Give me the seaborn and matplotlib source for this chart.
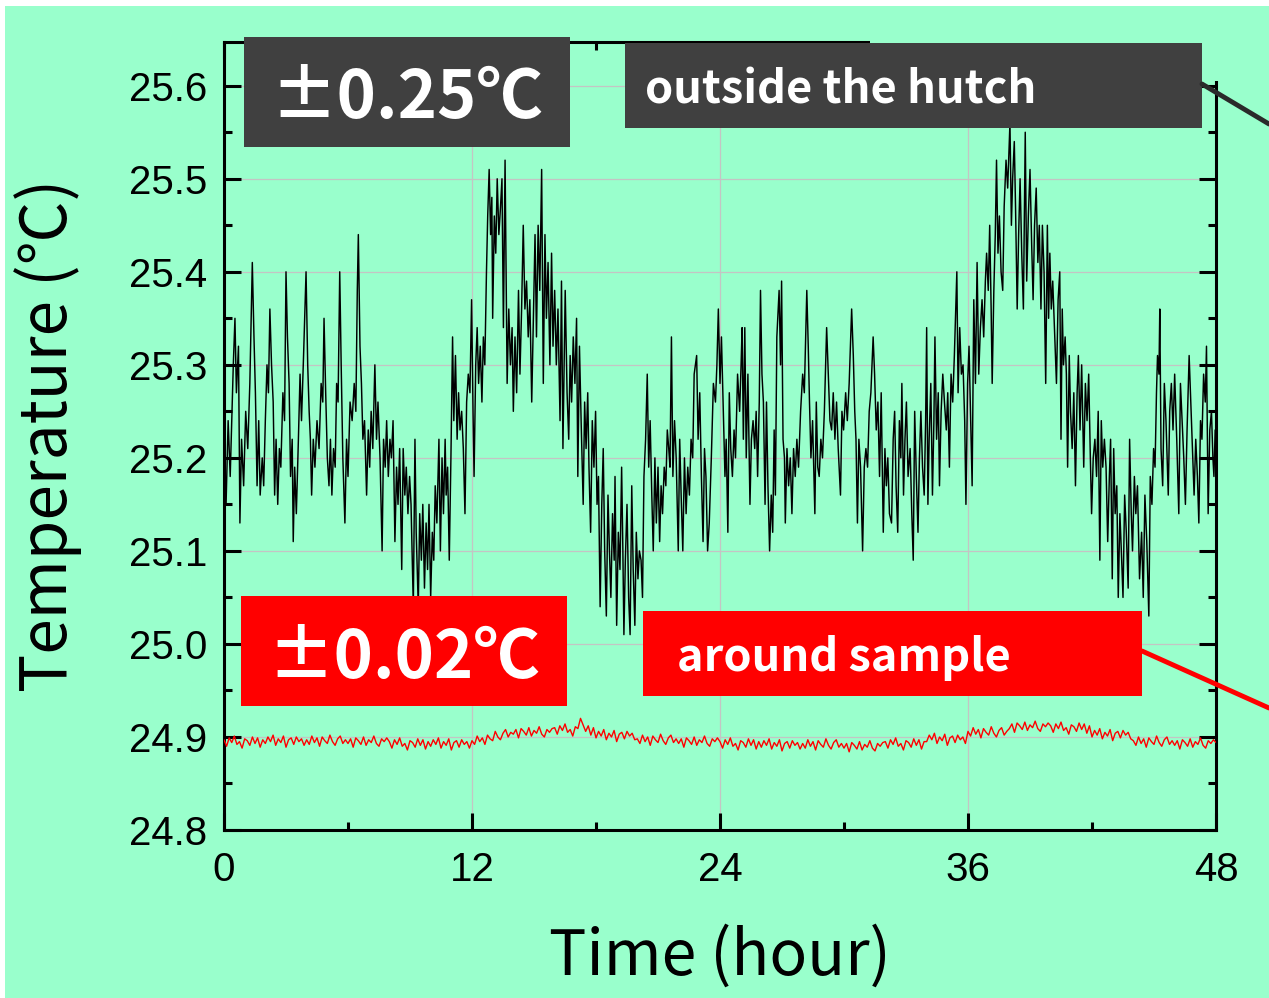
import numpy as np
import pandas as pd
import matplotlib
matplotlib.use("Agg")
import matplotlib.pyplot as plt
import seaborn as sns
from matplotlib.patches import Rectangle
from matplotlib.lines import Line2D
from matplotlib.ticker import MultipleLocator
from matplotlib import font_manager as fm

# ---------------- data ----------------
black_time = [
    0.0, 0.1, 0.2, 0.3, 0.45, 0.53, 0.6, 0.7, 0.77, 0.85, 0.95, 1.05, 1.15, 1.25, 1.37, 1.45, 1.52, 1.6, 1.68, 1.75,
    1.85, 1.92, 2.0, 2.08, 2.15, 2.22, 2.3, 2.38, 2.45, 2.52, 2.6, 2.68, 2.75, 2.85, 2.93, 3.0, 3.07, 3.15, 3.22, 3.3,
    3.35, 3.42, 3.5, 3.6, 3.68, 3.75, 3.85, 3.97, 4.05, 4.12, 4.18, 4.24, 4.32, 4.4, 4.5, 4.6, 4.7, 4.78, 4.84, 4.92,
    5.0, 5.08, 5.15, 5.22, 5.3, 5.38, 5.45, 5.52, 5.6, 5.67, 5.75, 5.85, 5.93, 6.0, 6.1, 6.2, 6.3, 6.38, 6.45, 6.5,
    6.58, 6.65, 6.72, 6.8, 6.9, 6.98, 7.05, 7.12, 7.2, 7.3, 7.38, 7.45, 7.55, 7.65, 7.72, 7.8, 7.87,
    7.95, 8.03, 8.1, 8.18, 8.27, 8.35, 8.42, 8.5, 8.6, 8.67, 8.75, 8.82, 8.9, 8.98, 9.05, 9.16, 9.24, 9.3, 9.4, 9.47,
    9.55, 9.62, 9.7, 9.78, 9.85, 9.92, 10.0, 10.08, 10.15, 10.22, 10.3, 10.4, 10.47, 10.55, 10.62, 10.7, 10.75, 10.82,
    10.9, 10.98, 11.06, 11.12, 11.2, 11.28, 11.35, 11.42, 11.5, 11.58, 11.66, 11.74, 11.82, 11.9, 11.98, 12.05, 12.1,
    12.18, 12.25, 12.32, 12.4, 12.48, 12.55, 12.62, 12.7, 12.76, 12.83, 12.9, 12.96, 13.0, 13.08, 13.15, 13.22, 13.3,
    13.38, 13.45, 13.52, 13.6, 13.7, 13.78, 13.86, 13.94, 14.0, 14.08, 14.16, 14.25, 14.32, 14.4, 14.48, 14.56, 14.64,
    14.72, 14.8, 14.89, 14.97, 15.05, 15.12, 15.2, 15.28, 15.37, 15.45, 15.53, 15.6, 15.68, 15.77, 15.85, 15.92, 16.0,
    16.08, 16.16, 16.26, 16.33, 16.4, 16.46, 16.51, 16.6, 16.68, 16.75, 16.82, 16.9, 16.98, 17.06, 17.12, 17.2, 17.28,
    17.38, 17.45, 17.52, 17.6, 17.66, 17.74, 17.82, 17.9, 17.98, 18.05, 18.12, 18.2, 18.28, 18.35, 18.42, 18.5, 18.58,
    18.65, 18.72, 18.8, 18.88, 18.92, 19.0, 19.08, 19.16, 19.24, 19.3, 19.35, 19.42, 19.5, 19.58, 19.65, 19.73, 19.8,
    19.88, 19.95, 20.03, 20.1, 20.18, 20.25, 20.32, 20.4, 20.48, 20.55, 20.62, 20.7, 20.77, 20.85, 20.92, 21.0, 21.08,
    21.15, 21.22, 21.3, 21.38, 21.45, 21.52, 21.58, 21.65, 21.72, 21.8, 21.88, 21.98, 22.05, 22.12, 22.2, 22.28, 22.36,
    22.44, 22.52, 22.6, 22.68, 22.75, 22.87, 22.94, 23.02, 23.1, 23.18, 23.25, 23.32, 23.4, 23.48, 23.58, 23.68, 23.78,
    23.85, 23.92,
    24.0, 24.07, 24.15, 24.24, 24.3, 24.38, 24.45, 24.52, 24.6, 24.68, 24.75, 24.85, 24.95, 25.02, 25.07, 25.13, 25.2,
    25.27, 25.35, 25.45, 25.52, 25.6, 25.68, 25.75, 25.82, 25.9, 25.96, 26.03, 26.1, 26.18, 26.25, 26.32, 26.4, 26.48,
    26.55, 26.62, 26.68, 26.75, 26.86, 26.93, 26.98, 27.05, 27.12, 27.16, 27.24, 27.32, 27.4, 27.48, 27.56, 27.64,
    27.72, 27.8, 27.9, 28.0, 28.08, 28.2, 28.27, 28.33, 28.4, 28.48, 28.59, 28.66, 28.73, 28.8, 28.88, 28.96, 29.05,
    29.16, 29.24, 29.32, 29.4, 29.48, 29.56, 29.64, 29.72, 29.83, 29.9, 29.98, 30.08, 30.16, 30.25, 30.37, 30.45, 30.52,
    30.58, 30.65, 30.72, 30.8, 30.9, 30.98, 31.06, 31.14, 31.22, 31.3, 31.41, 31.48, 31.56, 31.64, 31.72, 31.8, 31.9,
    31.98, 32.05, 32.12, 32.2, 32.3, 32.38, 32.45, 32.52, 32.6, 32.68, 32.75, 32.8, 32.88, 32.95, 33.02, 33.1, 33.2,
    33.28, 33.35, 33.42, 33.5, 33.58, 33.65, 33.72, 33.8, 33.88, 33.95, 34.0, 34.06, 34.12, 34.2, 34.28, 34.35, 34.4,
    34.48, 34.56, 34.62, 34.7, 34.78, 34.86, 34.95, 35.02, 35.1, 35.18, 35.26, 35.34, 35.46, 35.52, 35.6, 35.68, 35.76,
    35.84, 35.9, 35.98, 36.05, 36.12, 36.2, 36.28, 36.36, 36.44, 36.52, 36.6, 36.68, 36.76, 36.84, 36.9, 36.98, 37.05,
    37.12, 37.17, 37.25, 37.32, 37.38, 37.45, 37.52, 37.6, 37.68, 37.75, 37.84, 37.92, 38.03, 38.1, 38.16, 38.24, 38.3,
    38.38, 38.45, 38.52, 38.6, 38.68, 38.77, 38.84, 38.92, 39.0, 39.08, 39.15, 39.22, 39.3, 39.38, 39.45, 39.53, 39.6,
    39.68, 39.76,
    39.84, 39.9, 39.96, 40.03, 40.1, 40.18, 40.28, 40.36, 40.44, 40.5, 40.56, 40.62, 40.7, 40.76, 40.82, 40.9, 40.96,
    41.04, 41.12, 41.2, 41.28, 41.34, 41.42, 41.5, 41.6, 41.68, 41.76, 41.84, 41.92, 41.98, 42.06, 42.14, 42.22, 42.3,
    42.38, 42.45, 42.52, 42.6, 42.68, 42.76, 42.84, 42.9, 42.98, 43.05, 43.12, 43.2, 43.27, 43.35, 43.42, 43.5, 43.58,
    43.66, 43.75, 43.82, 43.9, 43.96, 44.05, 44.12, 44.2, 44.3, 44.4, 44.48, 44.56, 44.65, 44.75, 44.82, 44.9, 44.98,
    45.05, 45.12, 45.17, 45.24, 45.28, 45.34, 45.42, 45.5, 45.58, 45.69, 45.76, 45.84, 45.92, 46.0, 46.1, 46.2, 46.28,
    46.36, 46.44, 46.52, 46.6, 46.7, 46.78, 46.86, 46.94, 47.02, 47.1, 47.17, 47.25, 47.32, 47.4, 47.48, 47.54, 47.62,
    47.7, 47.78, 47.85, 47.9, 47.96,
]
black_temp = [
    25.20, 25.15, 25.24, 25.18, 25.30, 25.35, 25.27, 25.32, 25.13, 25.22, 25.17, 25.25, 25.21, 25.28, 25.41, 25.33, 25.27, 25.17, 25.24, 25.16,
    25.20, 25.17, 25.24, 25.30, 25.27, 25.36, 25.30, 25.26, 25.16, 25.22, 25.15, 25.21, 25.19, 25.27, 25.24, 25.40, 25.33, 25.28, 25.18, 25.22,
    25.11, 25.19, 25.14, 25.22, 25.29, 25.24, 25.31, 25.40, 25.30, 25.25, 25.22, 25.16, 25.22, 25.19, 25.24, 25.21, 25.28, 25.26, 25.35, 25.27,
    25.20, 25.17, 25.22, 25.16, 25.21, 25.19, 25.28, 25.26, 25.40, 25.30, 25.20, 25.13, 25.22, 25.18, 25.26, 25.24, 25.28, 25.25, 25.38, 25.44,
    25.32, 25.28, 25.22, 25.24, 25.16, 25.23, 25.19, 25.25, 25.21, 25.30, 25.22, 25.26, 25.20, 25.10, 25.22, 25.19, 25.24,
    25.18, 25.22, 25.20, 25.24, 25.11, 25.19, 25.15, 25.21, 25.08, 25.21, 25.16, 25.19, 25.14, 25.18, 25.15, 25.04, 25.22, 25.12, 25.04, 25.14,
    25.09, 25.15, 25.06, 25.13, 25.08, 25.15, 25.05, 25.12, 25.09, 25.17, 25.13, 25.22, 25.10, 25.20, 25.14, 25.22, 25.16, 25.19,
    25.09, 25.20, 25.33, 25.24, 25.31, 25.22, 25.27, 25.23, 25.25, 25.21, 25.14, 25.26, 25.29, 25.27, 25.37, 25.25, 25.18,
    25.30, 25.34, 25.28, 25.32, 25.26, 25.33, 25.30, 25.40, 25.46, 25.51, 25.44, 25.48, 25.35, 25.46, 25.42, 25.50, 25.44,
    25.47, 25.50, 25.34, 25.52, 25.28, 25.36, 25.30, 25.34, 25.25, 25.33, 25.27, 25.38, 25.29, 25.36, 25.45, 25.36, 25.39,
    25.33, 25.37, 25.26, 25.35, 25.44, 25.33, 25.45, 25.38, 25.51, 25.28, 25.44, 25.35, 25.41, 25.30, 25.42, 25.32, 25.38,
    25.30, 25.36, 25.24, 25.39, 25.21, 25.30, 25.38, 25.27, 25.22, 25.31, 25.26, 25.33, 25.28, 25.35, 25.18, 25.32, 25.24,
    25.15, 25.26, 25.21, 25.27, 25.19, 25.12, 25.24, 25.19, 25.25, 25.15, 25.18, 25.04, 25.15, 25.21, 25.10, 25.03, 25.16,
    25.10, 25.05, 25.14, 25.09, 25.18, 25.02, 25.12, 25.08, 25.19, 25.10, 25.01, 25.09, 25.15, 25.05, 25.01, 25.17, 25.08,
    25.02, 25.12, 25.07, 25.10, 25.09, 25.05, 25.18, 25.22, 25.29, 25.19, 25.24, 25.16, 25.10, 25.20, 25.13, 25.19, 25.11,
    25.17, 25.14, 25.19, 25.17, 25.23, 25.21, 25.19, 25.33, 25.18, 25.24, 25.20, 25.10, 25.22, 25.16, 25.10, 25.20, 25.14,
    25.19, 25.16, 25.22, 25.20, 25.29, 25.31, 25.22, 25.27, 25.18, 25.11, 25.21, 25.18, 25.10, 25.13, 25.20, 25.28, 25.26,
    25.30, 25.36,
    25.28, 25.33, 25.26, 25.18, 25.22, 25.12, 25.27, 25.21, 25.18, 25.23, 25.20, 25.29, 25.25, 25.30, 25.34, 25.22, 25.34,
    25.20, 25.29, 25.15, 25.22, 25.24, 25.21, 25.25, 25.18, 25.26, 25.38, 25.29, 25.26, 25.15, 25.26, 25.17, 25.10, 25.16,
    25.12, 25.23, 25.16, 25.33, 25.38, 25.30, 25.39, 25.22, 25.20, 25.13, 25.21, 25.17, 25.20, 25.14, 25.21, 25.18,
    25.22, 25.19, 25.25, 25.29, 25.27, 25.38, 25.32, 25.26, 25.20, 25.24, 25.14, 25.26, 25.19, 25.18, 25.22, 25.20, 25.25,
    25.34, 25.29, 25.24, 25.23, 25.27, 25.22, 25.26, 25.21, 25.16, 25.25, 25.23, 25.27, 25.24, 25.28, 25.36, 25.31, 25.25,
    25.22, 25.13, 25.22, 25.19, 25.10, 25.19, 25.21, 25.19, 25.25, 25.27, 25.33, 25.29, 25.23, 25.26, 25.18, 25.27, 25.12,
    25.21, 25.17, 25.20, 25.14, 25.13, 25.22, 25.25, 25.17, 25.12, 25.24, 25.20, 25.28, 25.16, 25.22, 25.26, 25.18, 25.21,
    25.14, 25.09, 25.25, 25.18, 25.12, 25.20, 25.25, 25.19, 25.16, 25.24, 25.34, 25.15, 25.22, 25.28, 25.16, 25.24, 25.33,
    25.22, 25.27, 25.17, 25.25, 25.29, 25.26, 25.23, 25.27, 25.19, 25.29, 25.26, 25.31, 25.40, 25.27, 25.34, 25.29, 25.30,
    25.24, 25.15, 25.28, 25.32, 25.25, 25.17, 25.37, 25.28, 25.41, 25.29, 25.34, 25.37, 25.33, 25.39, 25.42, 25.38, 25.45,
    25.36, 25.28, 25.38, 25.44, 25.52, 25.42, 25.46, 25.40, 25.38, 25.47, 25.52, 25.49, 25.56, 25.45, 25.50, 25.54, 25.47,
    25.36, 25.44, 25.50, 25.42, 25.36, 25.55, 25.39, 25.46, 25.51, 25.43, 25.37, 25.45, 25.49, 25.41, 25.45, 25.36, 25.45,
    25.40, 25.28,
    25.45, 25.35, 25.42, 25.36, 25.39, 25.34, 25.28, 25.37, 25.40, 25.22, 25.36, 25.30, 25.33, 25.29, 25.19, 25.31, 25.25,
    25.21, 25.27, 25.17, 25.27, 25.31, 25.23, 25.30, 25.19, 25.28, 25.24, 25.29, 25.20, 25.14, 25.20, 25.22, 25.18, 25.25,
    25.09, 25.24, 25.19, 25.22, 25.19, 25.11, 25.18, 25.22, 25.07, 25.21, 25.14, 25.17, 25.05, 25.14, 25.10, 25.05, 25.16,
    25.12, 25.06, 25.22, 25.14, 25.10, 25.18, 25.14, 25.17, 25.07, 25.12, 25.05, 25.16, 25.11, 25.03, 25.18, 25.15, 25.21,
    25.19, 25.27, 25.31, 25.29, 25.36, 25.21, 25.17, 25.28, 25.24, 25.16, 25.25, 25.28, 25.23, 25.29, 25.22, 25.14, 25.28,
    25.24, 25.20, 25.15, 25.23, 25.31, 25.26, 25.21, 25.16, 25.22, 25.18, 25.13, 25.24, 25.22, 25.29, 25.26, 25.32, 25.14,
    25.23, 25.25, 25.20, 25.18, 25.23,
]

red_interval_h = 0.125   # sampling interval of the sample-side readings
red_temp = [
    24.897, 24.890, 24.899, 24.894, 24.901, 24.892, 24.895, 24.888, 24.898, 24.896, 24.891, 24.900, 24.893, 24.899, 24.889, 24.897,
    24.893, 24.900, 24.895, 24.902, 24.891, 24.898, 24.894, 24.901, 24.889, 24.897, 24.899, 24.892, 24.900, 24.895, 24.898, 24.891,
    24.897, 24.892, 24.901, 24.894, 24.899, 24.890, 24.900, 24.896, 24.893, 24.902, 24.895, 24.891, 24.898, 24.901, 24.893, 24.897,
    24.893, 24.898, 24.889, 24.899, 24.896, 24.892, 24.900, 24.891, 24.897, 24.894, 24.901, 24.893, 24.890, 24.898, 24.895, 24.899,
    24.895, 24.888, 24.897, 24.892, 24.899, 24.890, 24.893, 24.886, 24.896, 24.894, 24.889, 24.898, 24.891, 24.897, 24.887, 24.895,
    24.890, 24.897, 24.892, 24.899, 24.888, 24.895, 24.891, 24.898, 24.886, 24.894, 24.896, 24.889, 24.897, 24.892, 24.895, 24.888,
    24.896, 24.892, 24.901, 24.895, 24.899, 24.892, 24.902, 24.898, 24.896, 24.906, 24.900, 24.897, 24.904, 24.908, 24.900, 24.905,
    24.903, 24.908, 24.899, 24.909, 24.906, 24.902, 24.910, 24.901, 24.907, 24.904, 24.911, 24.903, 24.900, 24.908, 24.905, 24.909,
    24.910, 24.903, 24.912, 24.907, 24.914, 24.905, 24.908, 24.901, 24.911, 24.909, 24.920, 24.913, 24.906, 24.912, 24.902, 24.910,
    24.899, 24.906, 24.901, 24.908, 24.897, 24.904, 24.900, 24.907, 24.895, 24.903, 24.905, 24.898, 24.906, 24.901, 24.904, 24.897,
    24.898, 24.893, 24.902, 24.895, 24.900, 24.891, 24.901, 24.897, 24.894, 24.903, 24.896, 24.892, 24.899, 24.902, 24.894, 24.898,
    24.893, 24.898, 24.889, 24.899, 24.896, 24.892, 24.900, 24.891, 24.897, 24.894, 24.901, 24.893, 24.890, 24.898, 24.895, 24.899,
    24.895, 24.888, 24.897, 24.892, 24.899, 24.890, 24.893, 24.886, 24.896, 24.894, 24.889, 24.898, 24.891, 24.897, 24.887, 24.895,
    24.889, 24.896, 24.891, 24.898, 24.887, 24.894, 24.890, 24.897, 24.885, 24.893, 24.895, 24.888, 24.896, 24.891, 24.894, 24.887,
    24.893, 24.888, 24.897, 24.890, 24.895, 24.886, 24.896, 24.892, 24.889, 24.898, 24.891, 24.887, 24.894, 24.897, 24.889, 24.893,
    24.888, 24.893, 24.884, 24.894, 24.891, 24.887, 24.895, 24.886, 24.892, 24.889, 24.896, 24.888, 24.885, 24.893, 24.890, 24.894,
    24.895, 24.888, 24.897, 24.892, 24.899, 24.890, 24.893, 24.886, 24.896, 24.894, 24.889, 24.898, 24.891, 24.897, 24.887, 24.895,
    24.895, 24.902, 24.897, 24.904, 24.893, 24.900, 24.896, 24.903, 24.891, 24.899, 24.901, 24.894, 24.902, 24.897, 24.900, 24.893,
    24.906, 24.901, 24.910, 24.903, 24.908, 24.899, 24.909, 24.905, 24.902, 24.911, 24.904, 24.900, 24.907, 24.910, 24.902, 24.906,
    24.909, 24.914, 24.905, 24.915, 24.912, 24.908, 24.916, 24.907, 24.913, 24.910, 24.917, 24.909, 24.906, 24.914, 24.911, 24.915,
    24.912, 24.905, 24.914, 24.909, 24.916, 24.907, 24.910, 24.903, 24.913, 24.911, 24.906, 24.915, 24.908, 24.914, 24.904, 24.912,
    24.900, 24.907, 24.902, 24.909, 24.898, 24.905, 24.901, 24.908, 24.896, 24.904, 24.906, 24.899, 24.907, 24.902, 24.905, 24.898,
    24.896, 24.891, 24.900, 24.893, 24.898, 24.889, 24.899, 24.895, 24.892, 24.901, 24.894, 24.890, 24.897, 24.900, 24.892, 24.896,
    24.891, 24.896, 24.887, 24.897, 24.894, 24.890, 24.898, 24.889, 24.895, 24.892, 24.899, 24.891, 24.888, 24.896, 24.893, 24.897,
    24.894,
]
red_time = [i * red_interval_h for i in range(len(red_temp))]

x_ticks = [0, 12, 24, 36, 48]
x_tick_labels = ["0", "12", "24", "36", "48"]
y_ticks = [24.8, 24.9, 25.0, 25.1, 25.2, 25.3, 25.4, 25.5, 25.6]
y_tick_labels = ["24.8", "24.9", "25.0", "25.1", "25.2", "25.3", "25.4", "25.5", "25.6"]

x_label = "Time (hour)"
y_label = "Temperature (℃)"
box_texts = ["±0.25℃", "outside the hutch", "±0.02℃", "around sample"]

# ---------------- style ----------------
MINT = "#99FFCC"
DARK = "#404040"
RED = "#FF0000"
W, H = 1269, 998

sns.set_style("ticks")
names = {f.name for f in fm.fontManager.ttflist}
if "Liberation Sans Narrow" in names:
    tick_font, tick_size = "Liberation Sans Narrow", 31
elif "Liberation Sans" in names:
    tick_font, tick_size = "Liberation Sans", 29
else:
    tick_font, tick_size = "DejaVu Sans", 25
cjk = ["Noto Sans CJK JP", "DejaVu Sans"]
plt.rcParams["font.family"] = cjk

fig = plt.figure(figsize=(W / 100, H / 100), dpi=100, facecolor="white")


def fx(px):
    return px / W


def fy(py):
    return 1 - py / H


# mint canvas leaving thin white margin at top/left
fig.add_artist(Rectangle((fx(5), 0), 1 - fx(5), fy(6), transform=fig.transFigure,
                         facecolor=MINT, edgecolor="none", zorder=-10))

ax = fig.add_axes([fx(224), fy(830), fx(1216) - fx(224), fy(42) - fy(830)])
ax.set_facecolor(MINT)

df_black = pd.DataFrame({"time": black_time, "temp": black_temp})
df_red = pd.DataFrame({"time": red_time, "temp": red_temp})
sns.lineplot(data=df_black, x="time", y="temp", ax=ax, color="black", lw=1.05,
             sort=False, estimator=None, zorder=3)
sns.lineplot(data=df_red, x="time", y="temp", ax=ax, color=RED, lw=1.0,
             sort=False, estimator=None, zorder=3)

ax.set_xlim(0, 48)
ax.set_ylim(24.8, 25.647)
ax.set_xticks(x_ticks)
ax.set_xticklabels(x_tick_labels, fontfamily=tick_font, fontsize=tick_size, color="black")
ax.set_yticks(y_ticks)
ax.set_yticklabels(y_tick_labels, fontfamily=tick_font, fontsize=tick_size, color="black")
ax.xaxis.set_minor_locator(MultipleLocator(6))
ax.yaxis.set_minor_locator(MultipleLocator(0.05))
ax.tick_params(which="both", direction="in", top=True, right=True, width=2.2, color="black")
ax.tick_params(which="major", length=12)
ax.tick_params(which="minor", length=6)
ax.tick_params(axis="y", pad=12)
ax.tick_params(axis="x", pad=15)
ax.grid(True, which="major", color="#c4c4c4", lw=0.9, zorder=1)
ax.set_axisbelow(True)
for s in ax.spines.values():
    s.set_linewidth(2.2)
    s.set_color("black")
ax.set_xlabel("")
ax.set_ylabel("")

# axis labels
fig.text(fx(720), fy(975), x_label, ha="center", va="baseline", fontsize=45, color="black")
fig.text(fx(48), fy(435), y_label, ha="center", va="center", rotation=90, fontsize=46, color="black")

# mint cover hiding upper-right part of the frame (as in the reference)
fig.add_artist(Rectangle((fx(870), fy(81)), fx(1232) - fx(870), fy(30) - fy(81),
                         transform=fig.transFigure, facecolor=MINT, edgecolor="none", zorder=1))


def box(x0, y0, x1, y1, color):
    fig.add_artist(Rectangle((fx(x0), fy(y1)), fx(x1) - fx(x0), fy(y0) - fy(y1),
                             transform=fig.transFigure, facecolor=color, edgecolor="none", zorder=2))


box(244, 37, 570, 147, DARK)
box(625, 43, 1202, 128, DARK)
box(241, 596, 567, 706, RED)
box(643, 611, 1142, 696, RED)

fig.add_artist(Line2D([fx(1202), fx(1269)], [fy(84), fy(124)], transform=fig.transFigure,
                      color="#2a2a2a", lw=3.5, zorder=2))
fig.add_artist(Line2D([fx(1142), fx(1269)], [fy(651), fy(708)], transform=fig.transFigure,
                      color=RED, lw=3.5, zorder=2))

fig.text(fx(407), fy(118), box_texts[0], ha="center", va="baseline", fontsize=48,
         fontweight="bold", color="white", zorder=4)
fig.text(fx(645), fy(103), box_texts[1], ha="left", va="baseline", fontsize=32.5,
         fontweight="bold", color="white", zorder=4)
fig.text(fx(404), fy(678), box_texts[2], ha="center", va="baseline", fontsize=48,
         fontweight="bold", color="white", zorder=4)
fig.text(fx(677), fy(671), box_texts[3], ha="left", va="baseline", fontsize=32.5,
         fontweight="bold", color="white", zorder=4)

fig.savefig("out.png", dpi=100, facecolor=fig.get_facecolor())
